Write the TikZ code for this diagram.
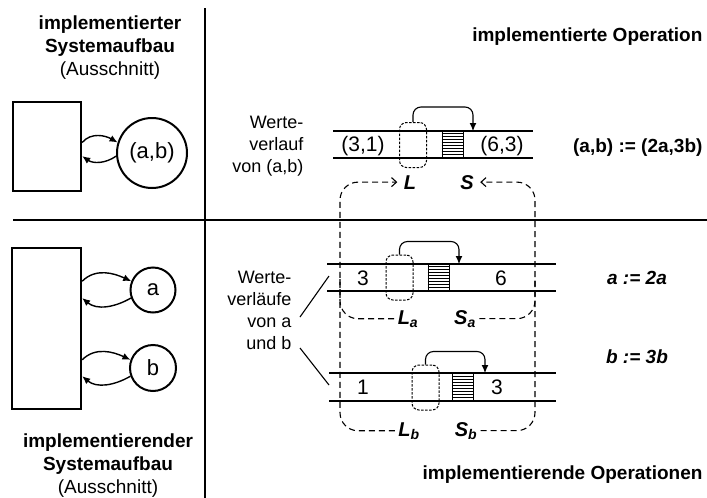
\documentclass[tikz,border=0pt]{standalone}
\usepackage{fontspec}
\setmainfont{Liberation Sans}
\usetikzlibrary{positioning,calc,arrows.meta}

\newcommand\minorfont{\mdseries\fontsize{19}{23}\selectfont}

\tikzset{
  sysbox/.style={draw, line width=2.4pt, inner sep=0pt},
  var/.style={draw, circle, line width=2pt, inner sep=0pt, font=\fontsize{22}{26}\selectfont},
  flow/.style={->, line width=1.4pt},
  track/.style={line width=1.4pt},
  slot/.style={draw, dash pattern=on 2.5pt off 1.5pt, line width=1pt, rounded corners=7pt,
    minimum width=27pt, minimum height=45pt, inner sep=0pt},
  hatchbox/.style={draw, line width=1pt, minimum width=21pt, minimum height=27pt, inner sep=0pt},
  jump/.style={->, line width=1.1pt, rounded corners=8pt},
  gather/.style={dash pattern=on 6pt off 4pt, line width=1.1pt, rounded corners=18pt},
  gtip/.style={-{Straight Barb[length=5pt,width=9pt]}, shorten >=3pt},
  head/.style={font=\bfseries\fontsize{19}{23}\selectfont, align=center},
  note/.style={font=\fontsize{18}{22}\selectfont, align=right},
  val/.style={font=\fontsize{21}{24}\selectfont},
  op/.style={font=\bfseries\fontsize{19}{22}\selectfont},
  lab/.style={font=\bfseries\itshape\fontsize{20}{22}\selectfont, anchor=base},
}

\begin{document}
\begin{tikzpicture}[x=1pt, y=-1pt, >={Latex[length=8pt,width=7pt]}]
  \useasboundingbox (0,0) rectangle (707,498);

  % frame
  \draw [line width=1.2pt] (205,8) -- (205,498);
  \draw [line width=1.2pt] (13,220) -- (707,220);

  % system, upper half
  \node [head] (topsys) at (110,48) {implementierter\\Systemaufbau\\{\minorfont (Ausschnitt)}};
  \node [sysbox, minimum width=68pt, minimum height=89pt] (sys1) at (47,146.5) {};
  \node [var, minimum size=70pt] (ab) at (152,153) {(a,b)};
  \draw [flow] (sys1.east |- ab.163) to [out=50,  in=150] (ab.163);
  \draw [flow] (ab.185) to [out=215, in=-35] (sys1.east |- ab.185);

  % system, lower half
  \node [sysbox, minimum width=69pt, minimum height=161pt] (sys2) at (46.5,328.5) {};
  \node [var, minimum size=45pt] (a) at (153,290) {a};
  \node [var, minimum size=46pt] (b) at (153,368) {b};
  \draw [flow] (sys2.east |- a.158) to [out=45,  in=155] (a.158);
  \draw [flow] (a.200) to [out=210, in=-40] (sys2.east |- a.200);
  \draw [flow] (sys2.east |- b.160) to [out=45,  in=155] (b.160);
  \draw [flow] (b.200) to [out=210, in=-40] (sys2.east |- b.200);
  \node [head] (botsys) at (108,466) {implementierender\\Systemaufbau\\{\minorfont (Ausschnitt)}};

  % operations
  \node [op, anchor=east] (opttl) at (706,37)  {implementierte Operation};
  \node [op, anchor=east] (opab)  at (706,148) {(a,b) := (2a,3b)};
  \node [op, font=\bfseries\itshape\fontsize{19}{22}\selectfont] (opa) at (637,278) {a := 2a};
  \node [op, font=\bfseries\itshape\fontsize{19}{22}\selectfont] (opb) at (637,357) {b := 3b};
  \node [op, anchor=east] (opsub) at (706,475) {implementierende Operationen};

  % value history of (a,b)
  \node [note, anchor=east] (wvab) at (307,146) {Werte-\\verlauf\\von (a,b)};
  \draw [track] (333,131) -- (533,131) (333,158) -- (533,158);
  \node [slot] (slotab) at (413,145) {};
  \node [hatchbox] (hatchab) at (452.5,144.5) {};
  \foreach \k in {1,...,8}
    \draw [line width=0.6pt] ([yshift=-3pt*\k]hatchab.north west) -- ([yshift=-3pt*\k]hatchab.north east);
  \coordinate (inab) at (473,131);
  \draw [jump] (slotab.north) -- ++(0,-15) -| (inab);
  \node [val] (v31) at (363,146) {(3,1)};
  \node [val] (v63) at (502,146) {(6,3)};
  \node [lab] (L) at (410,189) {L};
  \node [lab] (S) at (467,189) {S};

  % value histories of a and b
  \node [note, anchor=east] (wvsub) at (295,310) {Werte-\\verläufe\\von a\\und b};
  \coordinate (pa) at (329,276);
  \coordinate (pb) at (329,385);
  \draw [line width=1.1pt] ([shift={(5,7)}]wvsub.east) -- (pa);
  \draw [line width=1.1pt] ([shift={(5,38)}]wvsub.east) -- (pb);

  \draw [track] (327,264) -- (556,264) (327,291) -- (556,291);
  \node [slot] (slota) at (399.5,277.5) {};
  \node [hatchbox] (hatcha) at (438.5,277.5) {};
  \foreach \k in {1,...,8}
    \draw [line width=0.6pt] ([yshift=-3pt*\k]hatcha.north west) -- ([yshift=-3pt*\k]hatcha.north east);
  \coordinate (ina) at (459,264);
  \draw [jump] (slota.north) -- ++(0,-13) -| (ina);
  \node [val] (v3) at (363,278) {3};
  \node [val] (v6) at (501,278) {6};
  \node [lab] (La) at (408,324) {L\textsubscript{a}};
  \node [lab] (Sa) at (465,324) {S\textsubscript{a}};

  \draw [track] (329,373) -- (556,373) (329,401) -- (556,401);
  \node [slot] (slotb) at (425.5,387.5) {};
  \node [hatchbox] (hatchb) at (463,387) {};
  \foreach \k in {1,...,8}
    \draw [line width=0.6pt] ([yshift=-3pt*\k]hatchb.north west) -- ([yshift=-3pt*\k]hatchb.north east);
  \coordinate (inb) at (485,373);
  \draw [jump] (slotb.north) -- ++(0,-13) -| (inb);
  \node [val] (v1) at (363,387) {1};
  \node [val] (v3b) at (497,387) {3};
  \node [lab] (Lb) at (409,436) {L\textsubscript{b}};
  \node [lab] (Sb) at (466,436) {S\textsubscript{b}};

  % L and S collected from both histories
  \coordinate (lft) at (340,0);
  \coordinate (rgt) at (535,0);
  \draw [gather, gtip] (Lb.west) -| (lft |- L.west) -- (L.west);
  \draw [gather] (La.west) -- (lft |- La.west) -- ++(0,-40);
  \draw [gather, gtip] (Sb.east) -| (rgt |- S.east) -- (S.east);
  \draw [gather] (Sa.east) -- (rgt |- Sa.east) -- ++(0,-40);
\end{tikzpicture}
\end{document}
